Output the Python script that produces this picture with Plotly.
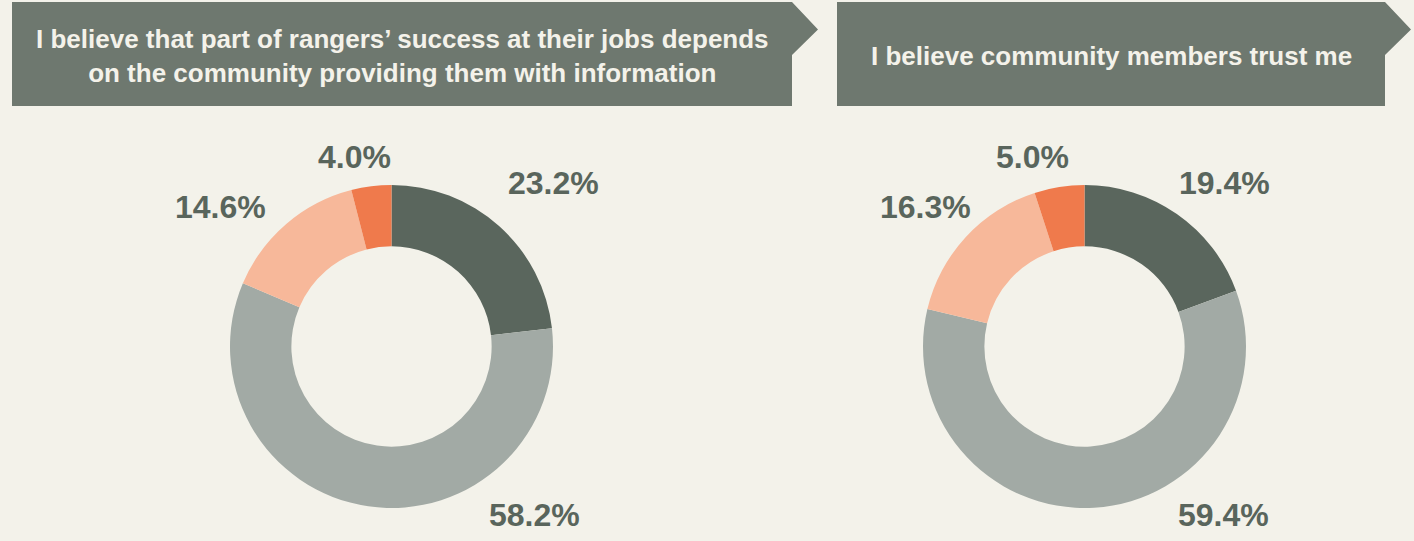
import plotly.graph_objects as go

W, H = 1414, 541

# survey answers, clockwise from 12 o'clock
answers = ["Strongly agree", "Agree", "Disagree", "Strongly disagree"]
q1_title = "I believe that part of rangers’ success at their jobs depends<br>on the community providing them with information"
q1_values = [23.2, 58.2, 14.6, 4.0]
q2_title = "I believe community members trust me"
q2_values = [19.4, 59.4, 16.3, 5.0]

BG = "#f3f2ea"
BANNER = "#6e786f"
TEXT_DARK = "#59655c"
SLICE_COLORS = ["#5a665d", "#a2aaa5", "#f7b89a", "#ef7a4c"]


def px_x(x):
    return x / W


def px_y(y):
    return 1 - y / H


def add_donut(fig, values, cx, cy, r, label_offsets):
    fig.add_trace(
        go.Pie(
            labels=answers,
            values=values,
            hole=0.62,
            sort=False,
            direction="clockwise",
            rotation=0,
            textinfo="none",
            marker=dict(colors=SLICE_COLORS, line=dict(width=0)),
            domain=dict(x=[px_x(cx - r), px_x(cx + r)], y=[px_y(cy + r), px_y(cy - r)]),
            showlegend=False,
            hoverinfo="label+percent",
        )
    )
    for v, (dx, dy) in zip(values, label_offsets):
        fig.add_annotation(
            x=px_x(cx + dx), y=px_y(cy + dy), xref="paper", yref="paper",
            text="<b>%.1f%%</b>" % v, showarrow=False,
            xanchor="center", yanchor="middle",
            font=dict(family="Liberation Sans, Arial", size=32, color=TEXT_DARK),
        )


def add_banner(fig, x0, x1, y0, y1, text, tip=26):
    mid = (y0 + 55) / 2 + 1
    path = "M {} {} L {} {} L {} {} L {} {} L {} {} L {} {} Z".format(
        px_x(x0), px_y(y0), px_x(x1), px_y(y0), px_x(x1 + tip), px_y(mid),
        px_x(x1), px_y(55), px_x(x1), px_y(y1), px_x(x0), px_y(y1))
    fig.add_shape(type="path", path=path, xref="paper", yref="paper",
                  fillcolor=BANNER, line=dict(width=0), layer="below")
    fig.add_annotation(
        x=px_x((x0 + x1) / 2), y=px_y((y0 + y1) / 2 + 2), xref="paper", yref="paper",
        text="<b>%s</b>" % text, showarrow=False, align="center",
        xanchor="center", yanchor="middle",
        font=dict(family="Liberation Sans, Arial", size=26, color="#f4f2ea"),
    )


fig = go.Figure()

add_banner(fig, 12, 792, 2, 106, q1_title)
add_banner(fig, 837, 1385, 2, 106, q2_title)

add_donut(fig, q1_values, 391.5, 346.5, 161.5,
          [(162, -163), (143, 168), (-171, -140), (-37, -190)])
add_donut(fig, q2_values, 1084.5, 346.5, 161.5,
          [(140, -163), (139, 168), (-159, -140), (-52, -190)])

fig.update_layout(
    width=W, height=H,
    margin=dict(l=0, r=0, t=0, b=0),
    paper_bgcolor=BG,
    plot_bgcolor=BG,
)

fig.write_html("out.html", config={"displayModeBar": False},
               post_script="document.body.style.margin='0';")
